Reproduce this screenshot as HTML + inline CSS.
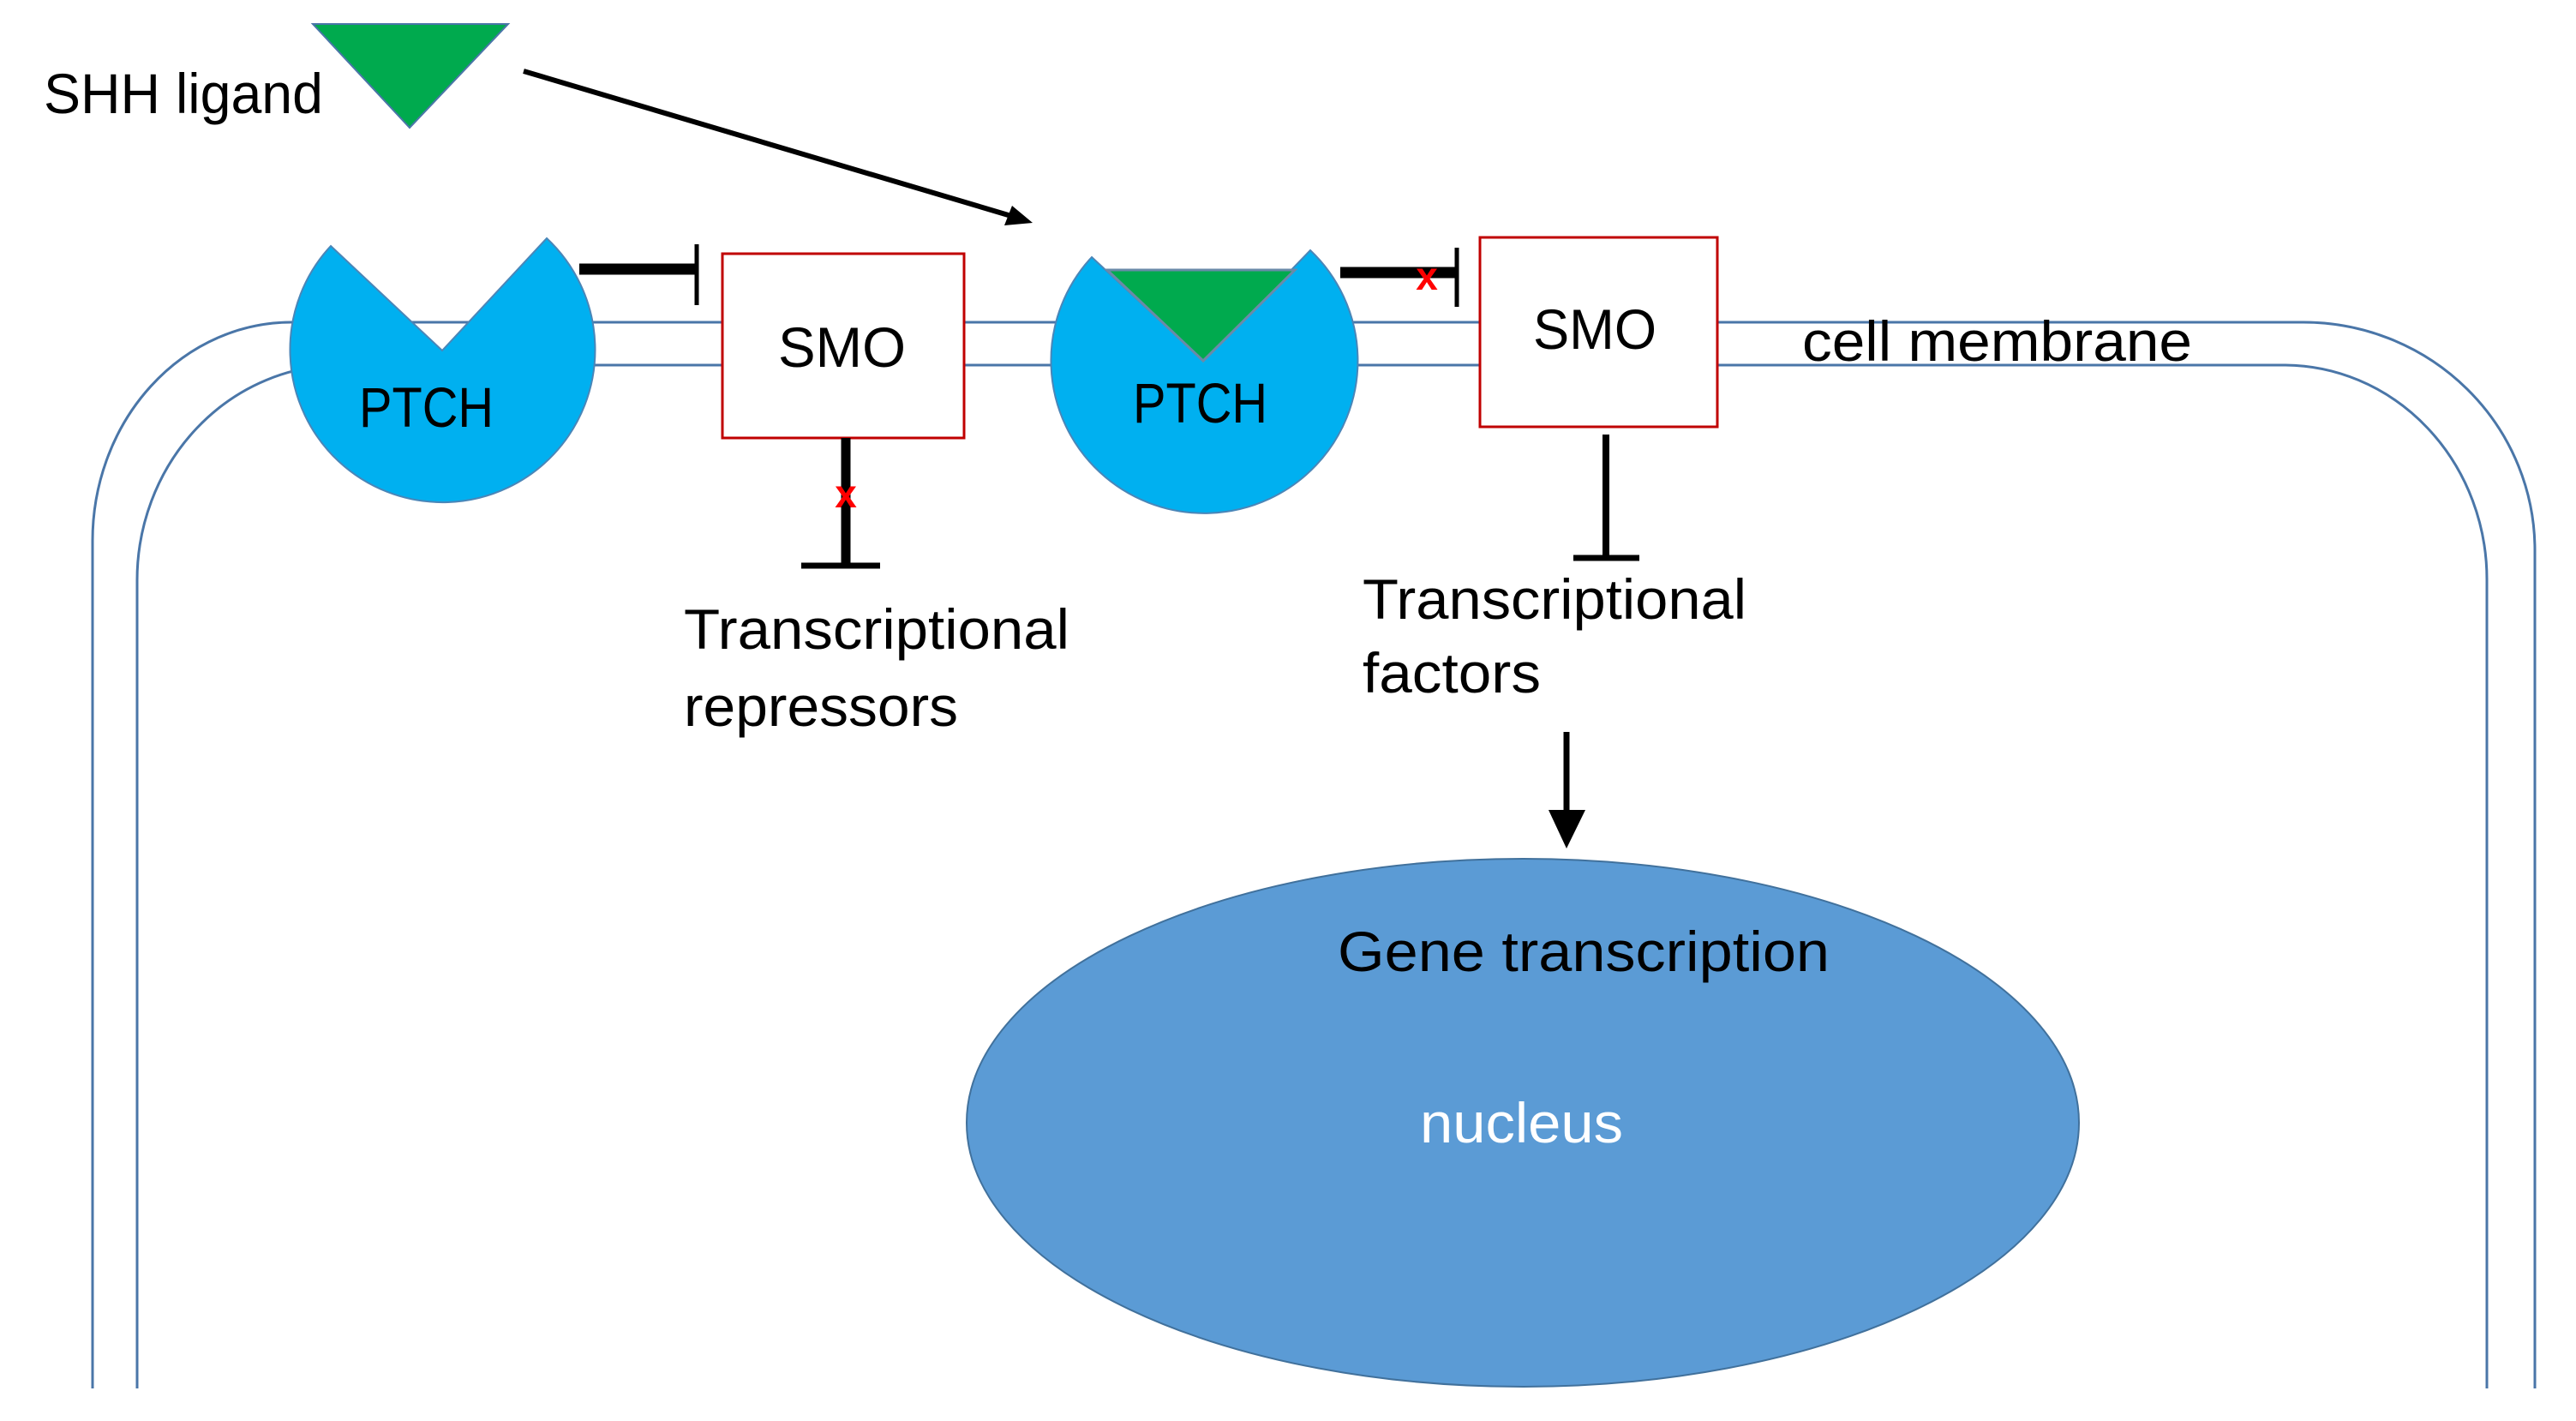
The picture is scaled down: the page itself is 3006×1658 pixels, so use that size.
<!DOCTYPE html>
<html><head><meta charset="utf-8"><style>
html,body{margin:0;padding:0;background:#fff;}
svg{display:block;}
text{font-family:"Liberation Sans",sans-serif;}
</style></head><body>
<svg width="3006" height="1658" viewBox="0 0 3006 1658" xmlns="http://www.w3.org/2000/svg">
<!-- membrane -->
<g fill="none" stroke="#4a76a8" stroke-width="3">
<path d="M108 1620 L108 631 A232 255 0 0 1 340 376 L2688 376 A270 266 0 0 1 2958 642 L2958 1620"/>
<path d="M160 1620 L160 677 A238 251 0 0 1 398 426 L2665 426 A237 250 0 0 1 2902 676 L2902 1620"/>
</g>
<!-- SHH ligand -->
<polygon points="365,28 593,28 478,149" fill="#00aa4e" stroke="#4a76a8" stroke-width="2"/>
<text x="51" y="132" font-size="66" textLength="326" lengthAdjust="spacingAndGlyphs">SHH ligand</text>
<!-- arrow -->
<line x1="611" y1="83" x2="1180" y2="252" stroke="#000" stroke-width="6"/>
<polygon points="1205,260 1172,263 1181,240" fill="#000"/>
<!-- Left PTCH -->
<path d="M386,287 L516,409 L638,278 A178 178 0 1 1 386,287 Z" fill="#00b0f0" stroke="#4a86b8" stroke-width="2"/>
<text x="419" y="498" font-size="66" textLength="157" lengthAdjust="spacingAndGlyphs">PTCH</text>
<line x1="676" y1="314" x2="813" y2="314" stroke="#000" stroke-width="13"/>
<line x1="813" y1="285" x2="813" y2="356" stroke="#000" stroke-width="5"/>
<!-- Left SMO -->
<rect x="843" y="296" width="282" height="215" fill="#fff" stroke="#c00000" stroke-width="3"/>
<text x="908" y="428" font-size="66" textLength="149" lengthAdjust="spacingAndGlyphs">SMO</text>
<line x1="987" y1="511" x2="987" y2="660" stroke="#000" stroke-width="11"/>
<line x1="935" y1="660" x2="1027" y2="660" stroke="#000" stroke-width="7"/>
<text x="987" y="592" font-size="46" fill="#ff0000" text-anchor="middle" font-weight="bold">x</text>
<text x="798" y="757" font-size="66" textLength="450" lengthAdjust="spacingAndGlyphs">Transcriptional</text>
<text x="798" y="847" font-size="66" textLength="320" lengthAdjust="spacingAndGlyphs">repressors</text>
<!-- Right PTCH -->
<path d="M1274,300 L1404,421 L1529,292 A179 178 0 1 1 1274,300 Z" fill="#00b0f0" stroke="#4a86b8" stroke-width="2"/>
<polygon points="1292,315 1511,315 1404,421" fill="#00aa4e" stroke="#6a8aa8" stroke-width="3"/>
<text x="1322" y="493" font-size="66" textLength="157" lengthAdjust="spacingAndGlyphs">PTCH</text>
<line x1="1564" y1="318" x2="1700" y2="318" stroke="#000" stroke-width="13"/>
<line x1="1700" y1="289" x2="1700" y2="358" stroke="#000" stroke-width="5"/>
<text x="1665" y="338" font-size="46" fill="#ff0000" text-anchor="middle" font-weight="bold">x</text>
<!-- Right SMO -->
<rect x="1727" y="277" width="277" height="221" fill="#fff" stroke="#c00000" stroke-width="3"/>
<text x="1789" y="407" font-size="66" textLength="144" lengthAdjust="spacingAndGlyphs">SMO</text>
<text x="2103" y="421" font-size="66" textLength="455" lengthAdjust="spacingAndGlyphs">cell membrane</text>
<line x1="1874" y1="507" x2="1874" y2="651" stroke="#000" stroke-width="8"/>
<line x1="1836" y1="651" x2="1913" y2="651" stroke="#000" stroke-width="7"/>
<text x="1590" y="722" font-size="66" textLength="448" lengthAdjust="spacingAndGlyphs">Transcriptional</text>
<text x="1590" y="808" font-size="66" textLength="208" lengthAdjust="spacingAndGlyphs">factors</text>
<!-- down arrow -->
<line x1="1828" y1="854" x2="1828" y2="950" stroke="#000" stroke-width="7"/>
<polygon points="1807,945 1850,945 1828,990" fill="#000"/>
<!-- nucleus -->
<ellipse cx="1777" cy="1310" rx="649" ry="308" fill="#5b9bd5" stroke="#41719c" stroke-width="2"/>
<text x="1561" y="1133" font-size="66" textLength="574" lengthAdjust="spacingAndGlyphs">Gene transcription</text>
<text x="1657" y="1333" font-size="66" fill="#fff" textLength="237" lengthAdjust="spacingAndGlyphs">nucleus</text>
</svg>
</body></html>
